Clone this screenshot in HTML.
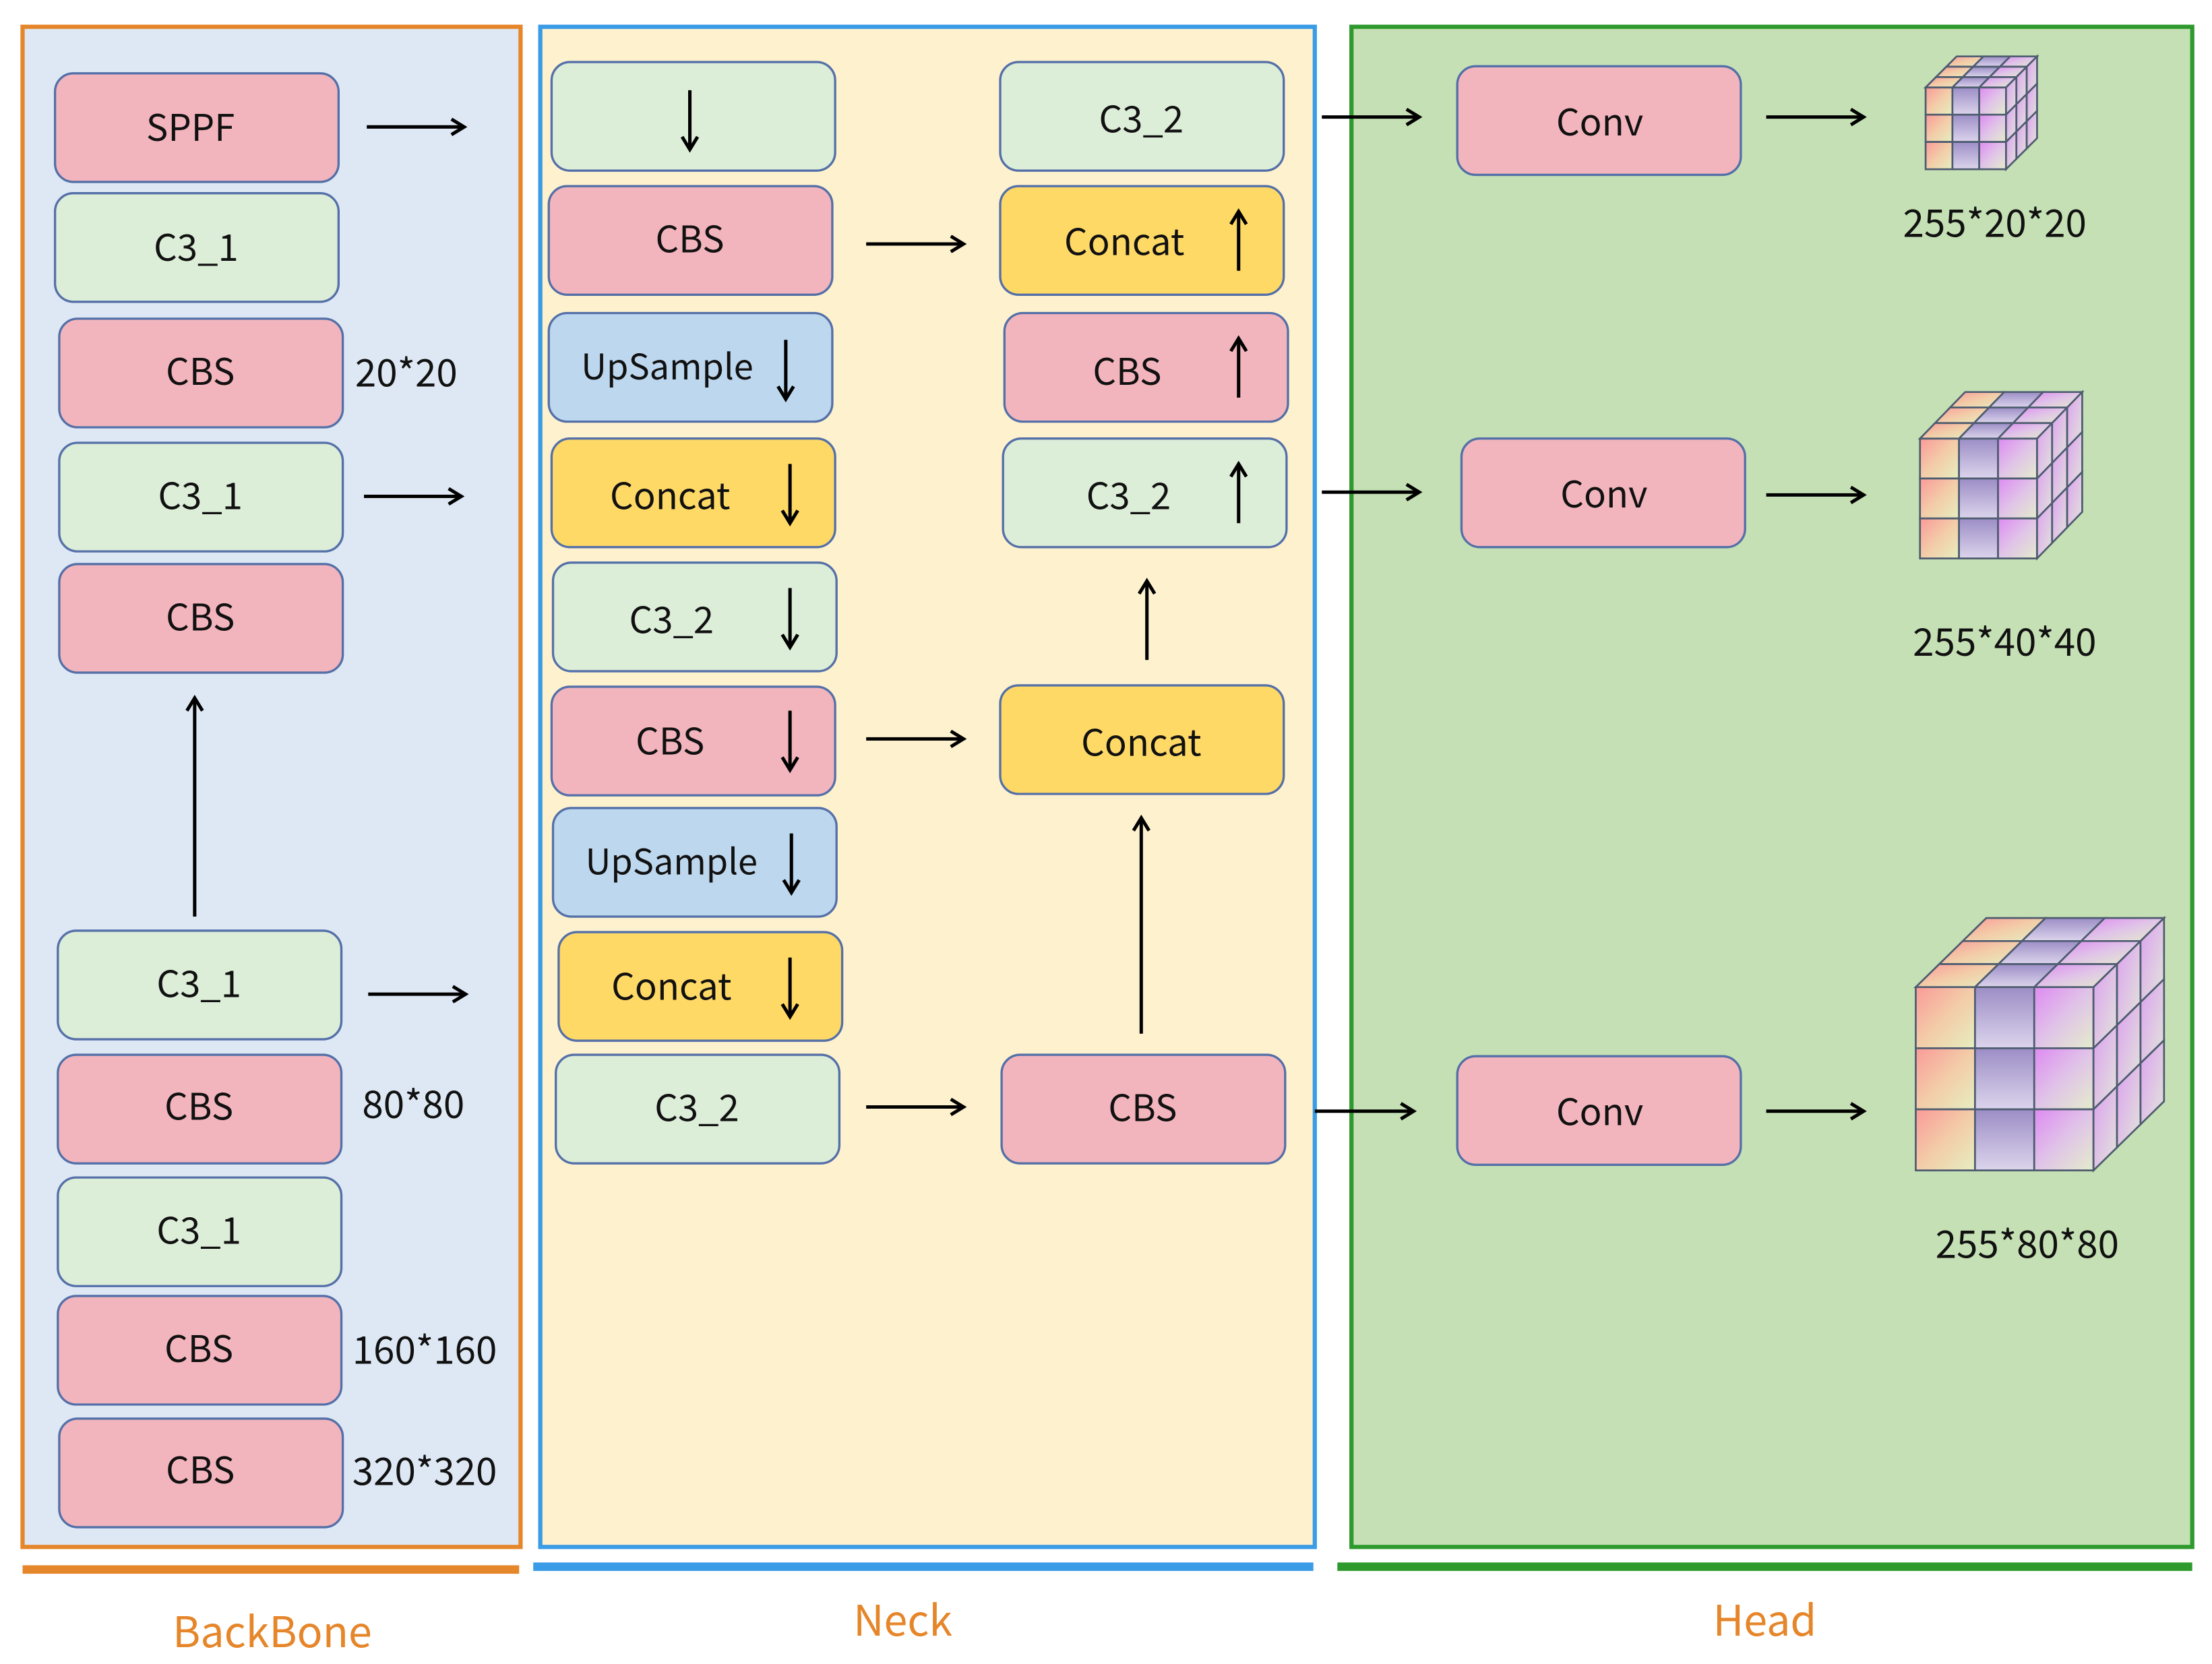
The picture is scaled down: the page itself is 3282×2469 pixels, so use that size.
<!DOCTYPE html>
<html><head><meta charset="utf-8"><style>
html,body{margin:0;padding:0;background:#fff;}
svg{display:block}
text{font-family:"Noto Sans CJK SC","Liberation Sans",sans-serif;fill:#111;}
</style></head><body>
<svg id="s" width="3282" height="2469" viewBox="0 0 1568 1180" preserveAspectRatio="none" xmlns="http://www.w3.org/2000/svg">
<defs>
<marker id="ah" markerWidth="14" markerHeight="14" refX="11" refY="7" orient="auto" markerUnits="userSpaceOnUse">
<path d="M2,1.5 L11,7 L2,12.5" fill="none" stroke="#000" stroke-width="2.4"/></marker>
<linearGradient id="g1" x1="0" y1="0" x2="1" y2="1"><stop offset="0" stop-color="#FA9A98"/><stop offset="0.5" stop-color="#F3CCA8"/><stop offset="1" stop-color="#E6EEC0"/></linearGradient>
<linearGradient id="g2" x1="0" y1="0" x2="0" y2="1"><stop offset="0" stop-color="#9C8EC6"/><stop offset="1" stop-color="#DCD4EC"/></linearGradient>
<linearGradient id="g3" x1="0" y1="0" x2="1" y2="1"><stop offset="0" stop-color="#DE8AF2"/><stop offset="0.5" stop-color="#E0C4E8"/><stop offset="1" stop-color="#E4ECCC"/></linearGradient>
<linearGradient id="g4" x1="0" y1="0" x2="1" y2="1"><stop offset="0" stop-color="#DCA0F0"/><stop offset="1" stop-color="#E2E6DA"/></linearGradient>
</defs>
<rect x="16" y="19" width="353" height="1078" fill="#DEE8F4" stroke="#E6862A" stroke-width="3"/>
<rect x="383" y="19" width="549" height="1078" fill="#FEF1CE" stroke="#3A9BE6" stroke-width="3"/>
<rect x="958" y="19" width="596" height="1078" fill="#C5E0B4" stroke="#2E9A2E" stroke-width="3"/>
<rect x="16" y="1110" width="352" height="6" fill="#E6862A"/>
<rect x="378" y="1108" width="553" height="6" fill="#3A9BE6"/>
<rect x="948" y="1108" width="606" height="6" fill="#2E9A2E"/>
<text x="193" y="1168" font-size="30" text-anchor="middle" style="fill:#E6862A">BackBone</text>
<text x="640" y="1160" font-size="30" text-anchor="middle" style="fill:#E6862A">Neck</text>
<text x="1251" y="1160" font-size="30" text-anchor="middle" style="fill:#E6862A">Head</text>

<g stroke="#5470A8" stroke-width="1.6">
<rect x="39" y="52" width="201" height="77" rx="13" fill="#F3B5BD"/>
<rect x="39" y="137" width="201" height="77" rx="13" fill="#DCEDD8"/>
<rect x="42" y="226" width="201" height="77" rx="13" fill="#F3B5BD"/>
<rect x="42" y="314" width="201" height="77" rx="13" fill="#DCEDD8"/>
<rect x="42" y="400" width="201" height="77" rx="13" fill="#F3B5BD"/>
<rect x="41" y="660" width="201" height="77" rx="13" fill="#DCEDD8"/>
<rect x="41" y="748" width="201" height="77" rx="13" fill="#F3B5BD"/>
<rect x="41" y="835" width="201" height="77" rx="13" fill="#DCEDD8"/>
<rect x="41" y="919" width="201" height="77" rx="13" fill="#F3B5BD"/>
<rect x="42" y="1006" width="201" height="77" rx="13" fill="#F3B5BD"/>
<rect x="391" y="44" width="201" height="77" rx="13" fill="#DCEDD8"/>
<rect x="389" y="132" width="201" height="77" rx="13" fill="#F3B5BD"/>
<rect x="389" y="222" width="201" height="77" rx="13" fill="#BDD7EE"/>
<rect x="391" y="311" width="201" height="77" rx="13" fill="#FFD966"/>
<rect x="392" y="399" width="201" height="77" rx="13" fill="#DCEDD8"/>
<rect x="391" y="487" width="201" height="77" rx="13" fill="#F3B5BD"/>
<rect x="392" y="573" width="201" height="77" rx="13" fill="#BDD7EE"/>
<rect x="396" y="661" width="201" height="77" rx="13" fill="#FFD966"/>
<rect x="394" y="748" width="201" height="77" rx="13" fill="#DCEDD8"/>
<rect x="709" y="44" width="201" height="77" rx="13" fill="#DCEDD8"/>
<rect x="709" y="132" width="201" height="77" rx="13" fill="#FFD966"/>
<rect x="712" y="222" width="201" height="77" rx="13" fill="#F3B5BD"/>
<rect x="711" y="311" width="201" height="77" rx="13" fill="#DCEDD8"/>
<rect x="709" y="486" width="201" height="77" rx="13" fill="#FFD966"/>
<rect x="710" y="748" width="201" height="77" rx="13" fill="#F3B5BD"/>
<rect x="1033" y="47" width="201" height="77" rx="13" fill="#F3B5BD"/>
<rect x="1036" y="311" width="201" height="77" rx="13" fill="#F3B5BD"/>
<rect x="1033" y="749" width="201" height="77" rx="13" fill="#F3B5BD"/>
</g>

<g font-size="26" text-anchor="middle">
<text x="135" y="100">SPPF</text>
<text x="139" y="185">C3_1</text>
<text x="142" y="273">CBS</text>
<text x="142" y="361">C3_1</text>
<text x="142" y="447">CBS</text>
<text x="141" y="707">C3_1</text>
<text x="141" y="794">CBS</text>
<text x="141" y="882">C3_1</text>
<text x="141" y="966">CBS</text>
<text x="142" y="1052">CBS</text>
<text x="489" y="179">CBS</text>
<text x="473" y="269" font-size="25">UpSample</text>
<text x="475" y="361">Concat</text>
<text x="476" y="449">C3_2</text>
<text x="475" y="535">CBS</text>
<text x="476" y="620" font-size="25">UpSample</text>
<text x="476" y="709">Concat</text>
<text x="494" y="795">C3_2</text>
<text x="809" y="94">C3_2</text>
<text x="797" y="181">Concat</text>
<text x="799" y="273">CBS</text>
<text x="800" y="361">C3_2</text>
<text x="809" y="536">Concat</text>
<text x="810" y="795">CBS</text>
<text x="1134" y="96">Conv</text>
<text x="1137" y="360">Conv</text>
<text x="1134" y="798">Conv</text>
<g font-size="27">
<text x="288" y="274">20*20</text>
<text x="293" y="793">80*80</text>
<text x="301" y="967">160*160</text>
<text x="301" y="1053">320*320</text>
<text x="1414" y="168">255*20*20</text>
<text x="1421" y="465">255*40*40</text>
<text x="1437" y="892">255*80*80</text>
</g>
</g>

<g stroke="#000" stroke-width="2.4" marker-end="url(#ah)" fill="none">
<line x1="260" y1="90" x2="329" y2="90"/>
<line x1="258" y1="352" x2="327" y2="352"/>
<line x1="261" y1="705" x2="330" y2="705"/>
<line x1="138" y1="650" x2="138" y2="495"/>
<line x1="489" y1="64" x2="489" y2="106"/>
<line x1="614" y1="173" x2="683" y2="173"/>
<line x1="557" y1="241" x2="557" y2="283"/>
<line x1="560" y1="329" x2="560" y2="371"/>
<line x1="560" y1="417" x2="560" y2="459"/>
<line x1="560" y1="504" x2="560" y2="546"/>
<line x1="614" y1="524" x2="683" y2="524"/>
<line x1="561" y1="591" x2="561" y2="633"/>
<line x1="560" y1="679" x2="560" y2="721"/>
<line x1="614" y1="785" x2="683" y2="785"/>
<line x1="878" y1="192" x2="878" y2="150"/>
<line x1="878" y1="282" x2="878" y2="240"/>
<line x1="878" y1="371" x2="878" y2="329"/>
<line x1="813" y1="468" x2="813" y2="412"/>
<line x1="809" y1="733" x2="809" y2="580"/>
<line x1="937" y1="83" x2="1006" y2="83"/>
<line x1="1252" y1="83" x2="1321" y2="83"/>
<line x1="937" y1="349" x2="1006" y2="349"/>
<line x1="1252" y1="351" x2="1321" y2="351"/>
<line x1="932" y1="788" x2="1002" y2="788"/>
<line x1="1252" y1="788" x2="1321" y2="788"/>
</g>
<g id="cubes"></g>
</svg>
<script>
(function(){
var NS="http://www.w3.org/2000/svg",g=document.getElementById("cubes");
function poly(pts,fill){var p=document.createElementNS(NS,"polygon");p.setAttribute("points",pts.map(function(a){return a[0]+","+a[1]}).join(" "));p.setAttribute("fill",fill);p.setAttribute("stroke","#4E5C70");p.setAttribute("stroke-width","1.3");g.appendChild(p);}
function cube(x,y,w,h,dx,dy){
 var cols=["url(#g1)","url(#g2)","url(#g3)"];
 for(var i=0;i<3;i++)for(var j=0;j<3;j++){var a=x+w*i/3,b=y+h*j/3;poly([[a,b],[a+w/3,b],[a+w/3,b+h/3],[a,b+h/3]],cols[i]);}
 for(var k=2;k>=0;k--)for(var i=0;i<3;i++){var ox=dx*k/3,oy=dy*k/3,ox2=dx*(k+1)/3,oy2=dy*(k+1)/3,a=x+w*i/3;
  poly([[a+ox,y+oy],[a+w/3+ox,y+oy],[a+w/3+ox2,y+oy2],[a+ox2,y+oy2]],cols[i]);}
 for(var k=0;k<3;k++)for(var j=0;j<3;j++){var ox=dx*k/3,oy=dy*k/3,ox2=dx*(k+1)/3,oy2=dy*(k+1)/3,b=y+h*j/3,X=x+w;
  poly([[X+ox,b+oy],[X+ox2,b+oy2],[X+ox2,b+h/3+oy2],[X+ox,b+h/3+oy]],"url(#g4)");}
}
cube(1365,62,57,58,22,-22);
cube(1361,311,83,85,32,-33);
cube(1358,700,126,130,50,-49);
})();
</script>
</body></html>
